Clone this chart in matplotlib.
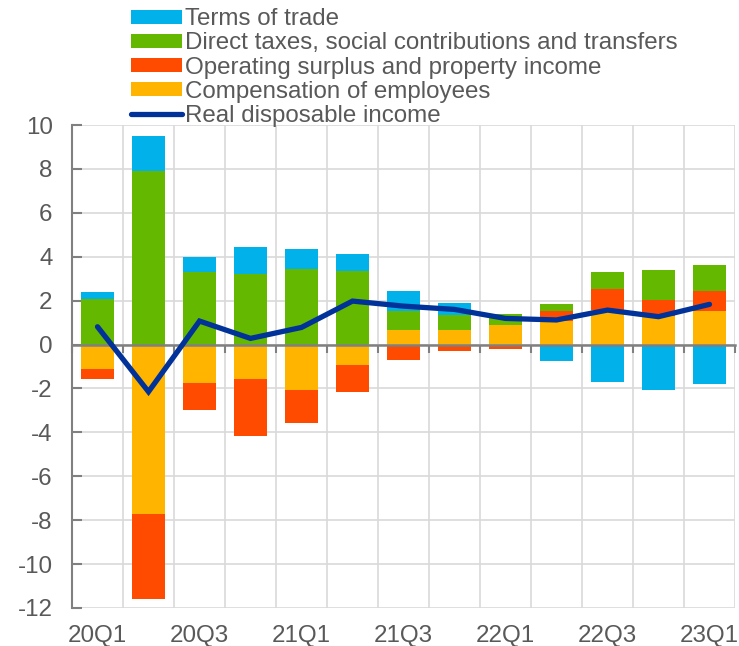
import matplotlib.pyplot as plt
import numpy as np

plt.rcParams['font.family'] = ['Liberation Sans', 'DejaVu Sans']
plt.rcParams['axes.unicode_minus'] = False

quarters = ['20Q1', '20Q2', '20Q3', '20Q4', '21Q1', '21Q2', '21Q3',
            '21Q4', '22Q1', '22Q2', '22Q3', '22Q4', '23Q1']

compensation = [-1.10, -7.71, -1.74, -1.57, -2.07, -0.92, 0.65, 0.66, 0.88, 1.05, 1.56, 1.32, 1.53]
op_surplus = [-0.47, -3.90, -1.24, -2.61, -1.52, -1.26, -0.69, -0.30, -0.21, 0.46, 0.98, 0.73, 0.93]
direct_taxes = [2.07, 7.90, 3.32, 3.20, 3.44, 3.35, 0.88, 0.68, 0.50, 0.35, 0.75, 1.34, 1.18]
terms_of_trade = [0.31, 1.60, 0.68, 1.23, 0.91, 0.76, 0.91, 0.55, 0.00, -0.76, -1.72, -2.06, -1.79]
real_income = [0.81, -2.15, 1.07, 0.28, 0.78, 1.98, 1.75, 1.60, 1.19, 1.12, 1.57, 1.27, 1.83]

series = [
    ('Compensation of employees', compensation, '#ffb400'),
    ('Operating surplus and property income', op_surplus, '#ff4b00'),
    ('Direct taxes, social contributions and transfers', direct_taxes, '#65b800'),
    ('Terms of trade', terms_of_trade, '#00b1ea'),
]

grey = '#595959'
axis_grey = '#808080'

fig = plt.figure(figsize=(7.39, 6.46), dpi=100)
ax = fig.add_axes([72 / 739, 1 - 608 / 646, 663 / 739, 483 / 646])

x = np.arange(len(quarters))
pos_base = np.zeros(len(x))
neg_base = np.zeros(len(x))
handles = {}
for name, vals, col in series:
    v = np.array(vals)
    bottom = np.where(v >= 0, pos_base, neg_base)
    b = ax.bar(x, v, width=0.65, bottom=bottom, color=col, label=name, zorder=2)
    handles[name] = b
    pos_base += np.where(v >= 0, v, 0)
    neg_base += np.where(v < 0, v, 0)

line, = ax.plot(x, real_income, color='#003299', lw=3.8, solid_capstyle='round',
                solid_joinstyle='miter', label='Real disposable income', zorder=4)

ax.set_xlim(-0.5, len(x) - 0.5)
ax.set_ylim(-12, 10)
ax.set_yticks(np.arange(-12, 11, 2))
ax.set_xticks(x[::2])
ax.set_xticklabels(quarters[::2])
ax.set_xticks(np.arange(-0.5, len(x), 1), minor=True)

ax.grid(axis='y', color='#d9d9d9', lw=1.2, zorder=0)
ax.grid(axis='x', which='minor', color='#d9d9d9', lw=1.2, zorder=0)
ax.set_axisbelow(True)

for s in ['top', 'right', 'bottom']:
    ax.spines[s].set_visible(False)
ax.spines['left'].set_color(axis_grey)
ax.spines['left'].set_linewidth(1.5)

ax.tick_params(axis='y', direction='in', length=7, width=1.5, color=axis_grey,
               labelsize=17.4, labelcolor=grey, pad=14)
ax.tick_params(axis='x', which='both', length=0, labelsize=17.4, labelcolor=grey, pad=12)

# zero line with boundary ticks
sec = ax.secondary_xaxis(0, transform=ax.transData)
sec.set_zorder(3)
sec.set_xticks(np.arange(-0.5, len(x), 1))
sec.set_xticklabels([])
sec.spines['bottom'].set_color(axis_grey)
sec.spines['bottom'].set_linewidth(1.8)
sec.tick_params(axis='x', direction='out', length=6, width=1.5, color=axis_grey)

order = ['Terms of trade', 'Direct taxes, social contributions and transfers',
         'Operating surplus and property income', 'Compensation of employees']
leg = fig.legend([handles[n] for n in order] + [line], order + ['Real disposable income'],
                 loc='upper left', bbox_to_anchor=(131 / 739, 0.987), frameon=False,
                 fontsize=17.4, labelcolor=grey, handlelength=2.1, handleheight=0.55,
                 handletextpad=0.15, labelspacing=0.085, borderpad=0, borderaxespad=0)

fig.savefig('out.png', dpi=100)
